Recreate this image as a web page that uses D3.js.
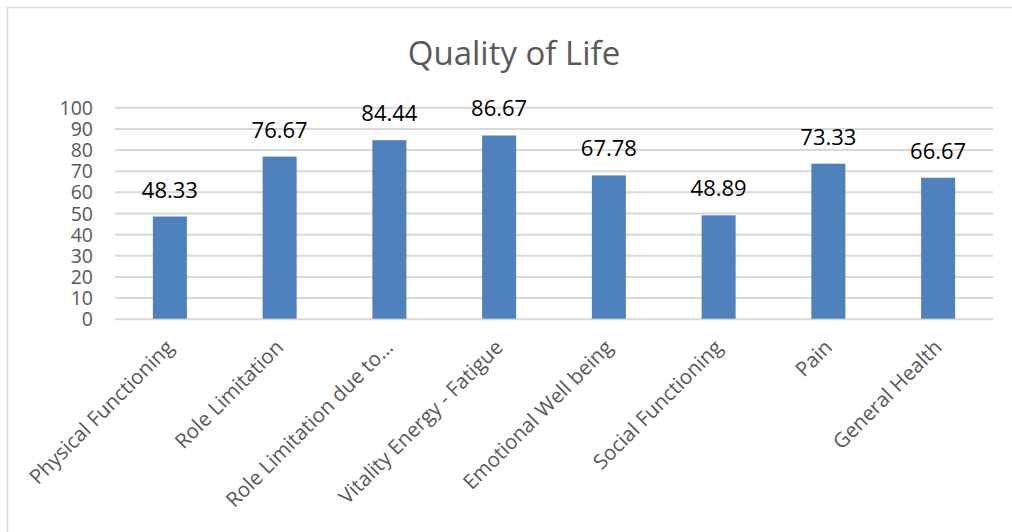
<!DOCTYPE html>
<html><head><meta charset="utf-8">
<script src="https://cdn.jsdelivr.net/npm/d3@7"></script>
<style>body{margin:0;background:#fff}svg{display:block}text{font-family:"Open Sans",sans-serif}</style>
</head><body>
<svg id="c" width="1012" height="532"></svg>
<script>
const categories = ["Physical Functioning","Role Limitation","Role Limitation due to…","Vitality Energy - Fatigue","Emotional Well being","Social Functioning","Pain","General Health"];
const values = [48.33,76.67,84.44,86.67,67.78,48.89,73.33,66.67];
const yTicks = [0,10,20,30,40,50,60,70,80,90,100];
const title = "Quality of Life";

const svg = d3.select("#c");
svg.append("rect").attr("x",7.5).attr("y",7.5).attr("width",1010).attr("height",530)
  .attr("fill","#fff").attr("stroke","#d9d9d9").attr("stroke-width",1.5);

const L=115,R=993,T=107.3,B=318.7;
const x = d3.scaleBand().domain(categories).range([L,R]).paddingInner(0.69).paddingOuter(0.345);
const y = d3.scaleLinear().domain([0,100]).range([B,T]);

svg.append("text").attr("x",514).attr("y",65).attr("text-anchor","middle")
  .attr("font-size",33).attr("fill","#595959").text(title);

const gy = svg.append("g").attr("transform",`translate(${L},0)`)
  .call(d3.axisLeft(y).tickValues(yTicks).tickSize(-(R-L)).tickPadding(22));
gy.select(".domain").remove();
gy.selectAll(".tick line").attr("stroke","#d9d9d9").attr("stroke-width",2);
gy.selectAll(".tick text").attr("font-size",19.5).attr("fill","#595959").attr("font-family","Open Sans").attr("dy","0.36em");

svg.append("g").selectAll("rect").data(values).join("rect")
  .attr("x",(d,i)=>x(categories[i])).attr("width",x.bandwidth())
  .attr("y",d=>y(d)).attr("height",d=>B-y(d)).attr("fill","#4F81BD");

svg.append("g").selectAll("text").data(values).join("text")
  .attr("x",(d,i)=>x(categories[i])+x.bandwidth()/2).attr("y",d=>y(d)-19)
  .attr("text-anchor","middle").attr("font-size",22).attr("fill","#000")
  .text(d=>d.toFixed(2));

const gx = svg.append("g").attr("transform",`translate(0,${B})`)
  .call(d3.axisBottom(x).tickSize(0).tickPadding(0));
gx.select(".domain").remove();
gx.selectAll(".tick text").attr("font-size",20.5).attr("fill","#595959").attr("font-family","Open Sans")
  .attr("text-anchor","end").attr("dy",null).attr("y",0)
  .attr("transform","translate(5,30) rotate(-45)");
</script>
</body></html>
